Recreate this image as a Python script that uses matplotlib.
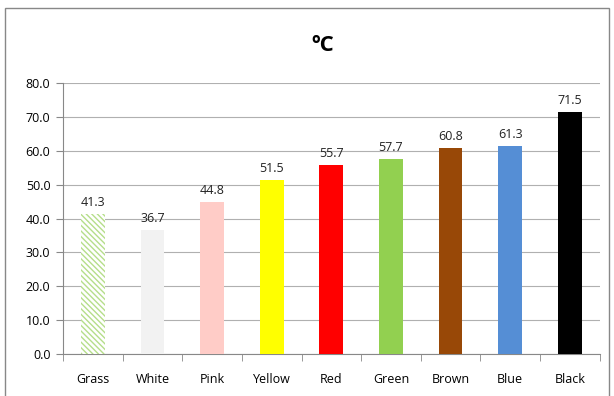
import matplotlib.pyplot as plt
import matplotlib.patches as patches

categorias = ["Grass", "White", "Pink", "Yellow", "Red", "Green", "Brown", "Blue", "Black"]
temperaturas = [41.3, 36.7, 44.8, 51.5, 55.7, 57.7, 60.8, 61.3, 71.5]
cores = ["white", "#F2F2F2", "#FFCCC7", "#FFFF00", "#FF0000", "#92D050", "#984807", "#558ED5", "#000000"]

plt.rcParams["font.family"] = ["Open Sans", "DejaVu Sans"]
plt.rcParams["hatch.linewidth"] = 1.0

fig = plt.figure(figsize=(6.14, 3.96), dpi=100)
ax = fig.add_axes([0.1026, 0.106, 0.874, 0.684])

pos = range(len(categorias))
barras = ax.bar(pos, temperaturas, width=0.4, color=cores, zorder=3)
barras[0].set_hatch("\\\\\\\\\\\\")
barras[0].set_edgecolor("#B5DE8A")
barras[0].set_linewidth(0)

for x, v in zip(pos, temperaturas):
    ax.text(x, v + 1.5, f"{v:.1f}", ha="center", va="bottom", fontsize=9, color="#222222")

ax.set_xlim(-0.5, len(categorias) - 0.5)
ax.set_ylim(0, 80)
ax.set_yticks(range(0, 81, 10))
ax.set_yticklabels([f"{v:.1f}" for v in range(0, 81, 10)], fontsize=9)
ax.set_xticks(list(pos))
ax.set_xticklabels(categorias, fontsize=9)
ax.set_xticks([i + 0.5 for i in range(-1, len(categorias))], minor=True)
ax.tick_params(axis="x", which="major", length=0, pad=14)
ax.tick_params(axis="x", which="minor", length=5, color="#888888")
ax.tick_params(axis="y", length=5, color="#888888", pad=4)
ax.grid(axis="y", color="#B0B0B0", linewidth=0.8, zorder=0)
for lado in ["top", "right"]:
    ax.spines[lado].set_visible(False)
ax.spines["left"].set_color("#888888")
ax.spines["bottom"].set_color("#888888")

fig.text(0.525, 0.885, "ºC", ha="center", va="center", fontsize=16, fontweight="bold")

moldura = patches.Rectangle((5 / 614, -0.05), 604 / 614, 1 - 8 / 396 + 0.05,
                            transform=fig.transFigure, fill=False,
                            edgecolor="#888888", linewidth=1)
fig.patches.append(moldura)

fig.savefig("out.png", dpi=100)
